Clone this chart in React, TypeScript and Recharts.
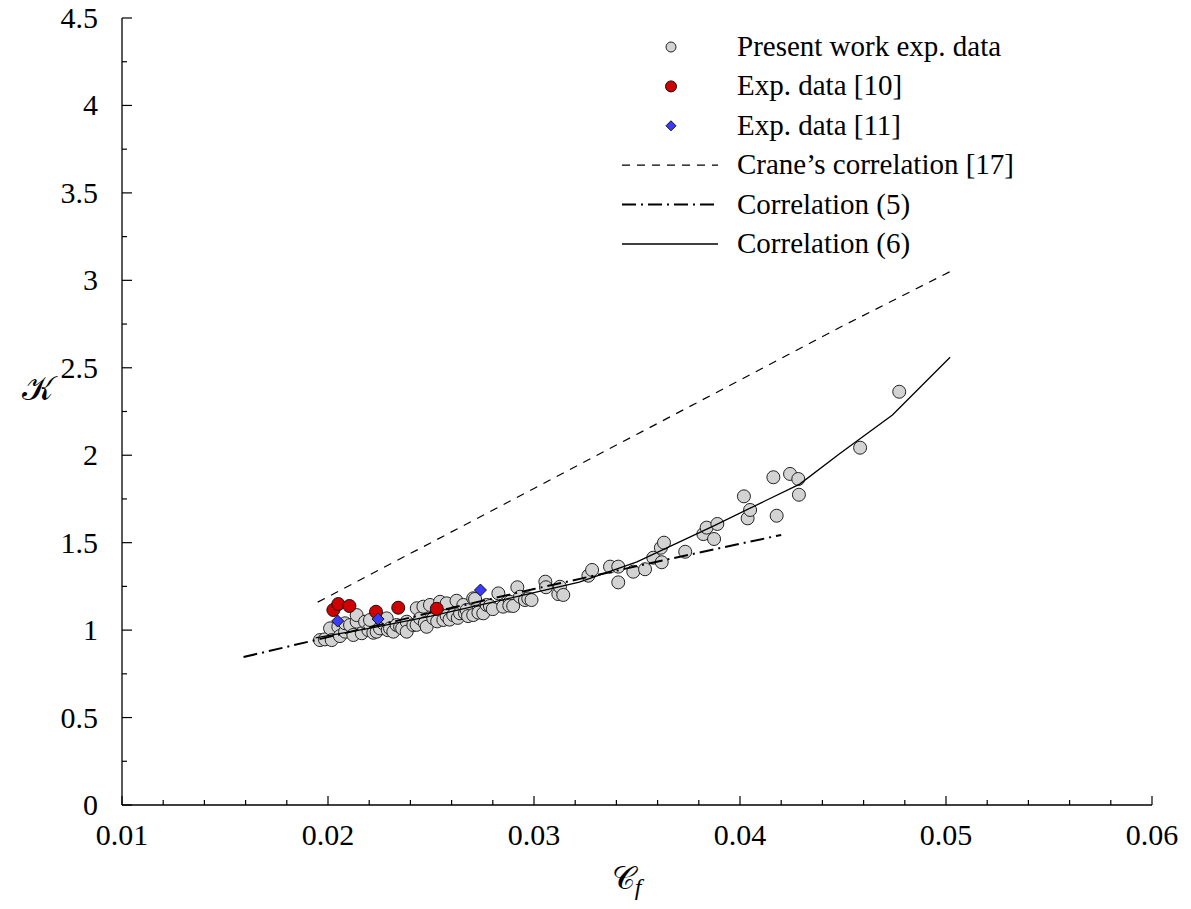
import React from "react";
import { ScatterChart, Scatter, XAxis, YAxis, Legend } from "recharts";

// Present work exp. data: [Cf, K]
const PRESENT_WORK: [number, number][] = [
  [0.01961, 0.943], [0.01985, 0.947], [0.0201, 1.01], [0.02018, 0.943], [0.0205, 1.019],
  [0.02058, 0.966], [0.02083, 0.991], [0.02083, 1.039], [0.02107, 1.029], [0.02123, 0.972],
  [0.02139, 1.048], [0.02139, 1.086], [0.02164, 0.982], [0.0218, 1.048], [0.02196, 1.0],
  [0.02204, 1.058], [0.0222, 0.985], [0.02236, 0.991], [0.02252, 1.01], [0.02268, 1.039],
  [0.02285, 1.067], [0.0229, 1.0], [0.02301, 1.01], [0.02317, 0.991], [0.02333, 1.029],
  [0.0235, 1.019], [0.0236, 1.01], [0.02382, 1.048], [0.02382, 0.991], [0.02414, 1.029],
  [0.02431, 1.125], [0.0243, 1.03], [0.02447, 1.067], [0.02463, 1.134], [0.0247, 1.04],
  [0.02479, 1.019], [0.02495, 1.144], [0.02511, 1.067], [0.0253, 1.05], [0.02544, 1.162],
  [0.0256, 1.058], [0.02576, 1.153], [0.02576, 1.081], [0.0259, 1.06], [0.02608, 1.086],
  [0.02624, 1.168], [0.0263, 1.07], [0.02641, 1.096], [0.02657, 1.144], [0.02665, 1.096],
  [0.02673, 1.115], [0.0268, 1.08], [0.02705, 1.182], [0.02705, 1.086], [0.02714, 1.178],
  [0.0273, 1.1], [0.02754, 1.096], [0.0277, 1.144], [0.02786, 1.138], [0.028, 1.12],
  [0.02827, 1.21], [0.0285, 1.134], [0.02883, 1.162], [0.0288, 1.14], [0.02899, 1.138],
  [0.02919, 1.245], [0.02932, 1.191], [0.02956, 1.172], [0.02972, 1.181], [0.02988, 1.172],
  [0.03055, 1.277], [0.03058, 1.245], [0.03118, 1.206], [0.03126, 1.248], [0.03142, 1.201],
  [0.03264, 1.311], [0.03282, 1.344], [0.03369, 1.363], [0.03409, 1.363], [0.03409, 1.273],
  [0.03482, 1.334], [0.03539, 1.348], [0.03579, 1.414], [0.03616, 1.471], [0.0362, 1.388],
  [0.03631, 1.5], [0.03734, 1.448], [0.03822, 1.549], [0.03838, 1.586], [0.03874, 1.521],
  [0.0389, 1.607], [0.04019, 1.765], [0.04037, 1.639], [0.04049, 1.687], [0.04162, 1.874],
  [0.04178, 1.654], [0.04243, 1.893], [0.04283, 1.864], [0.04286, 1.774], [0.04583, 2.043],
  [0.04773, 2.363],
];

// Exp. data [10]
const EXP_10: [number, number][] = [
  [0.02026, 1.115], [0.0205, 1.149], [0.02104, 1.138], [0.02233, 1.105], [0.02341, 1.128], [0.02528, 1.122],
];

// Exp. data [11]
const EXP_11: [number, number][] = [
  [0.02047, 1.052], [0.02243, 1.063], [0.0274, 1.229],
];

// Crane's correlation [17]
const CRANE: [number, number][] = [
  [0.0195, 1.16], [0.025, 1.5], [0.03, 1.81], [0.035, 2.12], [0.04, 2.43], [0.045, 2.74], [0.0502, 3.05],
];

// Correlation (5)
const CORR_5: [number, number][] = [
  [0.0159, 0.846], [0.02, 0.96], [0.025, 1.1], [0.03, 1.235], [0.0363, 1.4], [0.042, 1.544],
];

// Correlation (6)
const CORR_6: [number, number][] = [
  [0.0194, 0.955], [0.022, 1.01], [0.025, 1.08], [0.028, 1.16], [0.03, 1.215], [0.0322, 1.275],
  [0.035, 1.39], [0.0387, 1.595], [0.0429, 1.835], [0.04485, 2.01], [0.0474, 2.23], [0.0502, 2.56],
];

const X_MAJOR = [0.01, 0.02, 0.03, 0.04, 0.05, 0.06];
const X_MINOR = [
  0.012, 0.014, 0.016, 0.018, 0.022, 0.024, 0.026, 0.028, 0.032, 0.034, 0.036, 0.038,
  0.042, 0.044, 0.046, 0.048, 0.052, 0.054, 0.056, 0.058,
];
const Y_MAJOR = [0, 0.5, 1, 1.5, 2, 2.5, 3, 3.5, 4, 4.5];
const Y_MINOR = [0.25, 0.75, 1.25, 1.75, 2.25, 2.75, 3.25, 3.75, 4.25];

const LEGEND_LABELS = [
  "Present work exp. data",
  "Exp. data [10]",
  "Exp. data [11]",
  "Crane\u2019s correlation [17]",
  "Correlation (5)",
  "Correlation (6)",
];

const FONT = "'Liberation Serif', 'DejaVu Serif', 'Noto Serif', serif";
const GRAY = "#d3d3d3";
const RED = "#d00000";
const BLUE = "#3b3bff";
const DASH = "8 7";
const DASH_DOT = "14 5 2 5";

const txt: React.CSSProperties = { fontFamily: FONT };

const toPts = (arr: [number, number][]) => arr.map(([cf, k]) => ({ cf, k }));

const GrayDot = (p: any) => (
  <circle cx={p.cx} cy={p.cy} r={6.5} fill={GRAY} stroke="#222" strokeWidth={1} />
);
const RedDot = (p: any) => (
  <circle cx={p.cx} cy={p.cy} r={6.5} fill={RED} stroke="#111" strokeWidth={1} />
);
const BlueDiamond = (p: any) => {
  const s = 6;
  return (
    <polygon
      points={`${p.cx},${p.cy - s} ${p.cx + s},${p.cy} ${p.cx},${p.cy + s} ${p.cx - s},${p.cy}`}
      fill={BLUE}
      stroke="#111"
      strokeWidth={1}
    />
  );
};
const NoDot = () => <g />;

const XTick = (props: any) => {
  const { x, y, payload } = props;
  const major = X_MAJOR.includes(payload.value);
  return (
    <g>
      <line x1={x} x2={x} y1={y} y2={y - (major ? 9 : 5)} stroke="#000" strokeWidth={1.2} />
      {major && (
        <text x={x} y={y + 40} textAnchor="middle" style={txt} fontSize={30} fill="#000">
          {payload.value.toFixed(2)}
        </text>
      )}
    </g>
  );
};

const YTick = (props: any) => {
  const { x, y, payload } = props;
  const major = Y_MAJOR.includes(payload.value);
  return (
    <g>
      <line x1={x} x2={x + (major ? 10 : 5)} y1={y} y2={y} stroke="#000" strokeWidth={1.2} />
      {major && (
        <text x={x - 24} y={y + 10} textAnchor="end" style={txt} fontSize={30} fill="#000">
          {String(payload.value)}
        </text>
      )}
    </g>
  );
};

const renderLegend = () => {
  const rowY = (i: number) => 27 + i * 39.4;
  return (
    <svg width={460} height={250} style={{ overflow: "visible" }}>
      {LEGEND_LABELS.map((label, i) => {
        const y = rowY(i);
        let sym: React.ReactNode = null;
        if (i === 0) sym = <circle cx={71} cy={y} r={5} fill={GRAY} stroke="#222" strokeWidth={1} />;
        if (i === 1) sym = <circle cx={71} cy={y} r={5.5} fill={RED} stroke="#111" strokeWidth={1} />;
        if (i === 2)
          sym = (
            <polygon
              points={`71,${y - 5} 76,${y} 71,${y + 5} 66,${y}`}
              fill={BLUE}
              stroke="#111"
              strokeWidth={1}
            />
          );
        if (i === 3) sym = <line x1={22} x2={118} y1={y} y2={y} stroke="#000" strokeWidth={1.2} strokeDasharray={DASH} />;
        if (i === 4) sym = <line x1={22} x2={118} y1={y} y2={y} stroke="#000" strokeWidth={2} strokeDasharray={DASH_DOT} />;
        if (i === 5) sym = <line x1={22} x2={118} y1={y} y2={y} stroke="#000" strokeWidth={1.3} />;
        return (
          <g key={label}>
            {sym}
            <text x={137} y={y + 9} style={txt} fontSize={29} fill="#000">
              {label}
            </text>
          </g>
        );
      })}
    </svg>
  );
};

const YLabel = (p: any) => {
  const vb = p.viewBox;
  return (
    <text
      x={vb.x + 38}
      y={vb.y + vb.height * 0.47 + 12}
      textAnchor="middle"
      style={txt}
      fontSize={34}
      fill="#000"
    >
      𝒦
    </text>
  );
};

const XLabel = (p: any) => {
  const vb = p.viewBox;
  return (
    <text x={vb.x + vb.width * 0.49} y={vb.y + 84} textAnchor="middle" style={txt} fontSize={32} fill="#000">
      <tspan>𝒞</tspan>
      <tspan fontStyle="italic" fontSize={24} dy={6}>
        f
      </tspan>
    </text>
  );
};

export default function App() {
  return (
    <div style={{ position: "absolute", left: 0, top: 0, background: "#fff", fontFamily: FONT }}>
      <ScatterChart width={1191} height={909} margin={{ top: 18, right: 39, bottom: 0, left: 0 }}>
        <XAxis
          type="number"
          dataKey="cf"
          domain={[0.01, 0.06]}
          ticks={[...X_MAJOR, ...X_MINOR]}
          interval={0}
          height={104}
          tickSize={0}
          tickMargin={0}
          tickLine={false}
          tick={<XTick />}
          axisLine={{ stroke: "#000", strokeWidth: 1.3 }}
          allowDataOverflow
          label={<XLabel />}
        />
        <YAxis
          type="number"
          dataKey="k"
          domain={[0, 4.5]}
          ticks={[...Y_MAJOR, ...Y_MINOR]}
          interval={0}
          width={122}
          tickSize={0}
          tickMargin={0}
          tickLine={false}
          tick={<YTick />}
          axisLine={{ stroke: "#000", strokeWidth: 1.3 }}
          allowDataOverflow
          label={<YLabel />}
        />
        <Legend
          layout="horizontal"
          verticalAlign="middle"
          content={renderLegend}
          wrapperStyle={{ position: "absolute", left: 600, top: 20, width: 460, height: 250 }}
        />
        <Scatter name="Present work exp. data" data={toPts(PRESENT_WORK)} shape={GrayDot} isAnimationActive={false} />
        <Scatter
          name="Crane's correlation [17]"
          data={toPts(CRANE)}
          shape={NoDot}
          line={{ stroke: "#000", strokeWidth: 1.2, strokeDasharray: DASH }}
          isAnimationActive={false}
        />
        <Scatter
          name="Correlation (5)"
          data={toPts(CORR_5)}
          shape={NoDot}
          line={{ stroke: "#000", strokeWidth: 2, strokeDasharray: DASH_DOT }}
          isAnimationActive={false}
        />
        <Scatter
          name="Correlation (6)"
          data={toPts(CORR_6)}
          shape={NoDot}
          line={{ stroke: "#000", strokeWidth: 1.3 }}
          isAnimationActive={false}
        />
        <Scatter name="Exp. data [10]" data={toPts(EXP_10)} shape={RedDot} isAnimationActive={false} />
        <Scatter name="Exp. data [11]" data={toPts(EXP_11)} shape={BlueDiamond} isAnimationActive={false} />
      </ScatterChart>
    </div>
  );
}
